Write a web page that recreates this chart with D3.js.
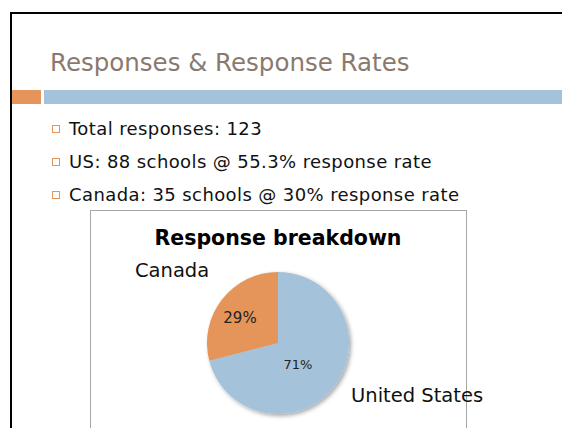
<!DOCTYPE html>
<html>
<head>
	<meta charset="utf-8">
	<script src="https://cdnjs.cloudflare.com/ajax/libs/d3/7.8.5/d3.min.js"></script>
	<style>
		body { margin: 0; background: white; }
		text { font-family: "DejaVu Sans", sans-serif; }
	</style>
</head>
<body>
	<svg width="562" height="428"></svg>
	<script>
	// slide text
	var slideTitle = "Responses & Response Rates";
	var bullets = ["Total responses: 123", "US: 88 schools @ 55.3% response rate", "Canada: 35 schools @ 30% response rate"];

	// chart data
	var chartTitle = "Response breakdown";
	var categories = ["United States", "Canada"];
	var shares = [71, 29];
	var colors = ["#a5c2db", "#e5955a"];

	var svg = d3.select("svg");

	// slide frame
	svg.append("path")
		.attr("d", "M11,440 V13 H570")
		.attr("fill", "none")
		.attr("stroke", "black")
		.attr("stroke-width", 2);

	svg.append("text")
		.attr("x", 50)
		.attr("y", 71)
		.style("font-size", "24.5px")
		.style("fill", "#8b796e")
		.text(slideTitle);

	// accent bars
	svg.append("rect").attr("x", 12).attr("y", 90).attr("width", 29).attr("height", 14).style("fill", "#e5955a");
	svg.append("rect").attr("x", 44).attr("y", 90).attr("width", 520).attr("height", 14).style("fill", "#a5c2db");

	// bullets
	var by = d3.scalePoint().domain(d3.range(bullets.length)).range([129, 195]);
	var b = svg.selectAll(".bullet")
		.data(bullets)
		.enter()
		.append("g")
		.attr("class", "bullet")
		.attr("transform", function(d, i) { return "translate(0," + by(i) + ")"; });
	b.append("rect")
		.attr("x", 52.5).attr("y", -3.5).attr("width", 7).attr("height", 7)
		.attr("fill", "none").attr("stroke", "#e5955a").attr("stroke-width", 1);
	b.append("text")
		.attr("x", 69)
		.attr("dy", "0.35em")
		.style("font-size", "18px")
		.style("letter-spacing", "0.4px")
		.style("fill", "#111")
		.text(function(d) { return d; });

	// chart box
	svg.append("rect")
		.attr("x", 90.5).attr("y", 210.5).attr("width", 376).attr("height", 240)
		.attr("fill", "white").attr("stroke", "#a6a6a6");

	svg.append("text")
		.attr("x", 278)
		.attr("y", 245)
		.attr("text-anchor", "middle")
		.style("font-size", "20.5px")
		.style("font-weight", "bold")
		.text(chartTitle);

	// shadow
	var defs = svg.append("defs");
	defs.append("filter").attr("id", "shadow")
		.attr("x", "-20%").attr("y", "-20%").attr("width", "140%").attr("height", "140%")
		.append("feDropShadow")
		.attr("dx", 2).attr("dy", 2).attr("stdDeviation", 2)
		.attr("flood-color", "#000").attr("flood-opacity", 0.35);

	var data = categories.map(function(c, i) { return {name: c, value: shares[i], color: colors[i]}; });
	var pie = d3.pie().sort(null).value(function(d) { return d.value; });
	var radius = 71;
	var arc = d3.arc().innerRadius(0).outerRadius(radius);

	var pg = svg.append("g").attr("transform", "translate(278,343)");
	var arcs = pie(data);

	pg.append("g").attr("filter", "url(#shadow)")
		.selectAll("path")
		.data(arcs)
		.enter()
		.append("path")
		.attr("d", arc)
		.style("fill", function(d) { return d.data.color; });

	// percent labels
	var pctSize = [13, 15];
	var pctOffset = [[20, 21], [-38, -25]];
	pg.selectAll(".pct")
		.data(arcs)
		.enter()
		.append("text")
		.attr("class", "pct")
		.attr("x", function(d, i) { return pctOffset[i][0]; })
		.attr("y", function(d, i) { return pctOffset[i][1]; })
		.attr("text-anchor", "middle")
		.attr("dy", "0.35em")
		.style("font-size", function(d, i) { return pctSize[i] + "px"; })
		.style("fill", "#222")
		.text(function(d) { return d.data.value + "%"; });

	// category labels
	var catPos = [[73, 52], [-143, -73]];
	pg.selectAll(".cat")
		.data(arcs)
		.enter()
		.append("text")
		.attr("class", "cat")
		.attr("x", function(d, i) { return catPos[i][0]; })
		.attr("y", function(d, i) { return catPos[i][1]; })
		.attr("dy", "0.35em")
		.style("font-size", "19.5px")
		.style("fill", "#111")
		.text(function(d) { return d.data.name; });
	</script>
</body>
</html>
